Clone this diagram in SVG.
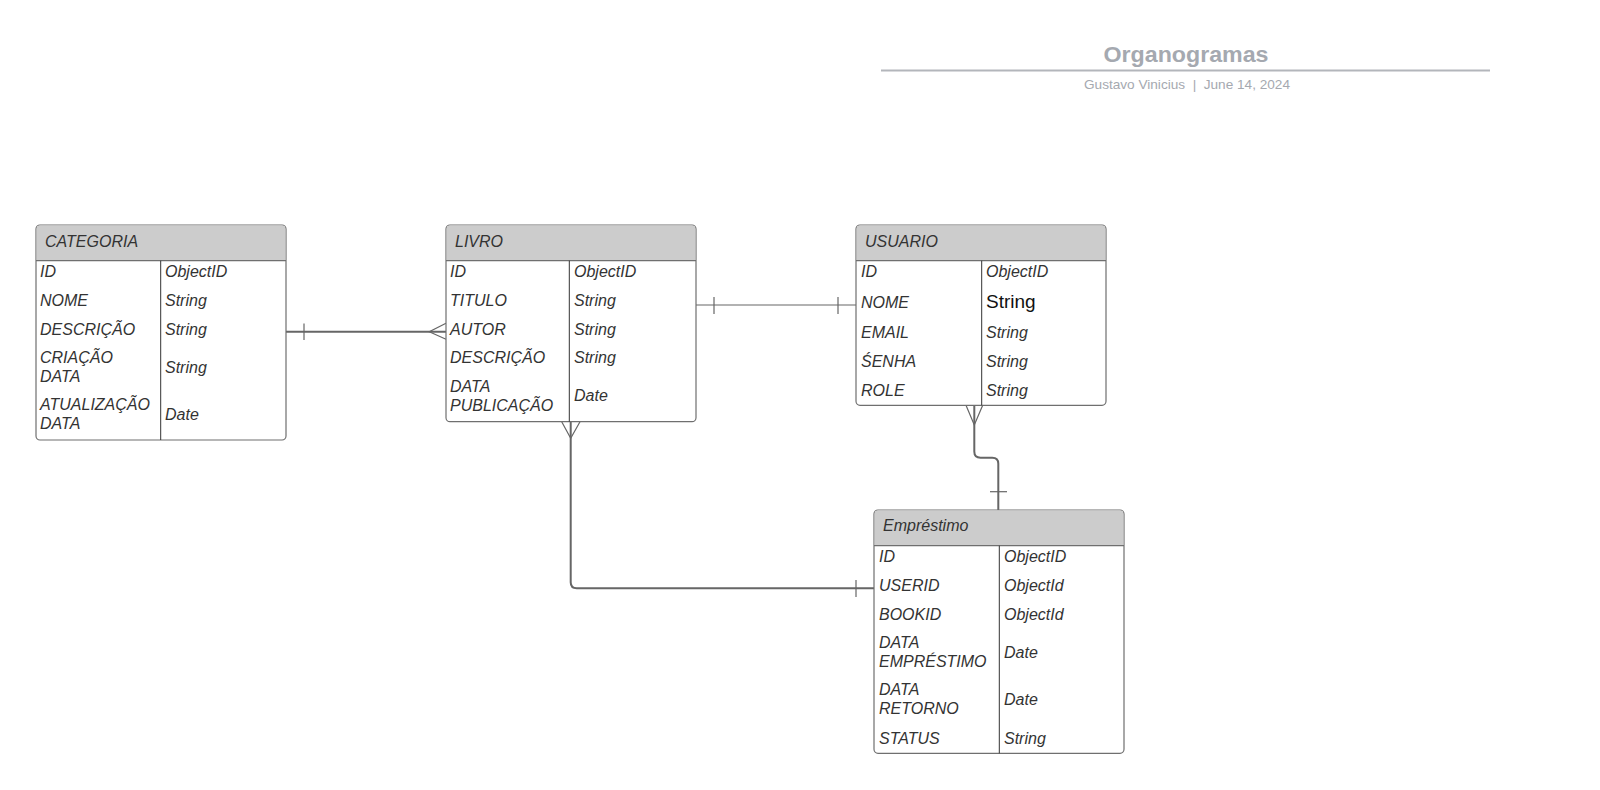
<svg xmlns="http://www.w3.org/2000/svg" width="1600" height="790" viewBox="0 0 1600 790">
<style>
.box{fill:#ffffff;stroke:#6f6f6f;stroke-width:1.2}
.hdr{fill:#cccccc;stroke:none}
.ln{stroke:#6f6f6f;stroke-width:1.2;fill:none}
.div{stroke:#333333;stroke-width:1}
.t{font-family:"Liberation Sans",Arial,sans-serif;font-size:16px;font-style:italic;fill:#333333}
.big{font-family:"Liberation Sans",Arial,sans-serif;font-size:19px;fill:#111111}
.c{stroke:#666666;stroke-width:2;fill:none}
.c1{stroke:#666666;stroke-width:1.2;fill:none}
</style>
<rect width="1600" height="790" fill="#ffffff"/>
<g id="title">
<text x="1186" y="61.5" text-anchor="middle" font-family="Liberation Sans, Arial, sans-serif" font-weight="bold" font-size="22.5" fill="#a5a9b0" textLength="165" lengthAdjust="spacingAndGlyphs">Organogramas</text>
<line x1="881" y1="70.5" x2="1490" y2="70.5" stroke="#b3b6bb" stroke-width="2"/>
<text x="1187" y="88.5" text-anchor="middle" font-family="Liberation Sans, Arial, sans-serif" font-size="13" fill="#a5a9b0" textLength="206" lengthAdjust="spacingAndGlyphs">Gustavo Vinicius&#160;&#160;|&#160;&#160;June 14, 2024</text>
</g>
<g id="connectors">
<line class="c" x1="286" y1="331.7" x2="446" y2="331.7"/>
<line class="c1" x1="304" y1="323.5" x2="304" y2="340"/>
<polyline class="c1" points="446,323.3 429.3,331.7 446,339.3"/>
<line class="c1" x1="696" y1="305" x2="856" y2="305"/>
<line class="c1" x1="714" y1="297" x2="714" y2="314"/>
<line class="c1" x1="838" y1="297" x2="838" y2="314"/>
<path class="c" d="M570.7,421.7 V582.3 Q570.7,588.3 576.7,588.3 H874"/>
<polyline class="c1" points="561.7,421.7 570.7,438.3 580,421.7"/>
<line class="c1" x1="856" y1="580" x2="856" y2="597"/>
<path class="c" d="M974.3,405.3 V451.5 Q974.3,457.7 980.5,457.7 H992.3 Q998.3,457.7 998.3,463.7 V510"/>
<polyline class="c1" points="966,405.3 974.3,425 982.7,405.3"/>
<line class="c1" x1="990" y1="491.7" x2="1007" y2="491.7"/>
</g>
<g id="categoria">
<rect class="box" x="36" y="225" width="250" height="215" rx="4"/>
<path class="hdr" d="M40,225.6 H282 Q285.4,225.6 285.4,229 V260.7 H36.6 V229 Q36.6,225.6 40,225.6 Z"/>
<line class="ln" x1="36" y1="260.7" x2="286" y2="260.7"/>
<line class="div" x1="160.7" y1="260.7" x2="160.7" y2="440"/>
<text class="t" x="45" y="246.5">CATEGORIA</text>
<text class="t" x="40" y="277">ID</text><text class="t" x="165" y="277">ObjectID</text>
<text class="t" x="40" y="306">NOME</text><text class="t" x="165" y="306">String</text>
<text class="t" x="40" y="335">DESCRIÇÃO</text><text class="t" x="165" y="335">String</text>
<text class="t" x="40" y="363">CRIAÇÃO</text><text class="t" x="40" y="382">DATA</text><text class="t" x="165" y="373">String</text>
<text class="t" x="40" y="410">ATUALIZAÇÃO</text><text class="t" x="40" y="429">DATA</text><text class="t" x="165" y="420">Date</text>
</g>
<g id="livro">
<rect class="box" x="446" y="225" width="250" height="196.7" rx="4"/>
<path class="hdr" d="M450,225.6 H692 Q695.4,225.6 695.4,229 V260.7 H446.6 V229 Q446.6,225.6 450,225.6 Z"/>
<line class="ln" x1="446" y1="260.7" x2="696" y2="260.7"/>
<line class="div" x1="569.3" y1="260.7" x2="569.3" y2="421.7"/>
<text class="t" x="455" y="246.5">LIVRO</text>
<text class="t" x="450" y="277">ID</text><text class="t" x="574" y="277">ObjectID</text>
<text class="t" x="450" y="306">TITULO</text><text class="t" x="574" y="306">String</text>
<text class="t" x="450" y="335">AUTOR</text><text class="t" x="574" y="335">String</text>
<text class="t" x="450" y="363">DESCRIÇÃO</text><text class="t" x="574" y="363">String</text>
<text class="t" x="450" y="392">DATA</text><text class="t" x="450" y="411">PUBLICAÇÃO</text><text class="t" x="574" y="401">Date</text>
</g>
<g id="usuario">
<rect class="box" x="856" y="225" width="250" height="180.3" rx="4"/>
<path class="hdr" d="M860,225.6 H1102 Q1105.4,225.6 1105.4,229 V260.7 H856.6 V229 Q856.6,225.6 860,225.6 Z"/>
<line class="ln" x1="856" y1="260.7" x2="1106" y2="260.7"/>
<line class="div" x1="981.7" y1="260.7" x2="981.7" y2="405.3"/>
<text class="t" x="865" y="246.5">USUARIO</text>
<text class="t" x="861" y="277">ID</text><text class="t" x="986" y="277">ObjectID</text>
<text class="t" x="861" y="308">NOME</text><text class="big" x="986" y="308">String</text>
<text class="t" x="861" y="338">EMAIL</text><text class="t" x="986" y="338">String</text>
<text class="t" x="861" y="367">ŚENHA</text><text class="t" x="986" y="367">String</text>
<text class="t" x="861" y="395.5">ROLE</text><text class="t" x="986" y="395.5">String</text>
</g>
<g id="emprestimo">
<rect class="box" x="874" y="510" width="250" height="243.3" rx="4"/>
<path class="hdr" d="M878,510.6 H1120 Q1123.4,510.6 1123.4,514 V545.7 H874.6 V514 Q874.6,510.6 878,510.6 Z"/>
<line class="ln" x1="874" y1="545.7" x2="1124" y2="545.7"/>
<line class="div" x1="999.3" y1="545.7" x2="999.3" y2="753.3"/>
<text class="t" x="883" y="531">Empréstimo</text>
<text class="t" x="879" y="562">ID</text><text class="t" x="1004" y="562">ObjectID</text>
<text class="t" x="879" y="591">USERID</text><text class="t" x="1004" y="591">ObjectId</text>
<text class="t" x="879" y="620">BOOKID</text><text class="t" x="1004" y="620">ObjectId</text>
<text class="t" x="879" y="648">DATA</text><text class="t" x="879" y="667">EMPRÉSTIMO</text><text class="t" x="1004" y="658">Date</text>
<text class="t" x="879" y="695">DATA</text><text class="t" x="879" y="714">RETORNO</text><text class="t" x="1004" y="705">Date</text>
<text class="t" x="879" y="743.5">STATUS</text><text class="t" x="1004" y="743.5">String</text>
</g>
</svg>
